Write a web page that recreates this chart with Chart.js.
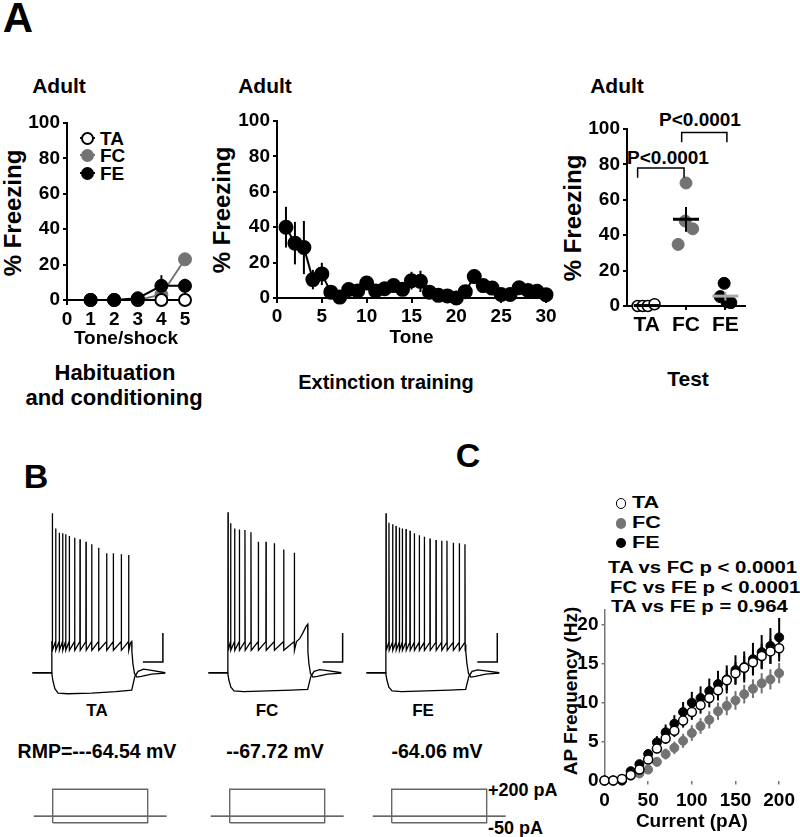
<!DOCTYPE html>
<html>
<head>
<meta charset="utf-8">
<script src="https://cdn.jsdelivr.net/npm/chart.js@4.4.1/dist/chart.umd.min.js"></script>
<style>
  body { margin: 0; width: 800px; height: 837px; position: relative; overflow: hidden; background: #fff;
         font-family: "Liberation Sans", Arial, sans-serif; font-weight: bold; color: #000; }
  canvas { position: absolute; }
  .t { position: absolute; white-space: nowrap; line-height: 1; transform: translate(-50%, -50%); }
  .r { position: absolute; white-space: nowrap; line-height: 1; transform: translate(-50%, -50%) rotate(-90deg); }
  .l { position: absolute; white-space: nowrap; line-height: 1; transform: translateY(-50%); }
  .s { position: absolute; white-space: nowrap; line-height: 1; transform-origin: left center; }
  .dot { position: absolute; border-radius: 50%; box-sizing: border-box; }
  .bar { position: absolute; height: 2px; }
</style>
</head>
<body>

<!-- panel letters and free text -->
<div class="t" style="left:18px;top:18px;font-size:42px">A</div>
<div class="t" style="left:36px;top:476px;font-size:34px">B</div>
<div class="t" style="left:468px;top:455px;font-size:34px">C</div>

<div class="t" style="left:59px;top:85px;font-size:21px">Adult</div>
<div class="t" style="left:265px;top:85px;font-size:21px">Adult</div>
<div class="t" style="left:617px;top:85px;font-size:21px">Adult</div>

<div class="r" style="left:13px;top:213px;font-size:24px">% Freezing</div>
<div class="r" style="left:222px;top:210px;font-size:24px">% Freezing</div>
<div class="r" style="left:573px;top:218px;font-size:24px">% Freezing</div>
<div class="r" style="left:570px;top:691px;font-size:19px">AP Frequency (Hz)</div>

<div class="t" style="left:115px;top:373px;font-size:22px">Habituation</div>
<div class="t" style="left:114px;top:398px;font-size:22px">and conditioning</div>
<div class="t" style="left:386px;top:382px;font-size:20px">Extinction training</div>
<div class="t" style="left:688px;top:378px;font-size:21px">Test</div>

<div class="t" style="left:668px;top:157px;font-size:19px">P&lt;0.0001</div>
<div class="t" style="left:700px;top:119px;font-size:19px">P&lt;0.0001</div>

<!-- legend, panel A left -->
<div class="bar" style="left:80px;top:137px;width:15px;background:#000"></div>
<div class="dot" style="left:81px;top:131.5px;width:13px;height:13px;background:#fff;border:2px solid #000"></div>
<div class="l" style="left:100px;top:138px;font-size:19px">TA</div>
<div class="bar" style="left:80px;top:154px;width:15px;background:#737373"></div>
<div class="dot" style="left:81px;top:148.5px;width:13px;height:13px;background:#737373"></div>
<div class="l" style="left:100px;top:155px;font-size:19px">FC</div>
<div class="bar" style="left:80px;top:172px;width:15px;background:#000"></div>
<div class="dot" style="left:81px;top:166.5px;width:13px;height:13px;background:#000"></div>
<div class="l" style="left:100px;top:173px;font-size:19px">FE</div>

<!-- panel B labels -->
<div class="t" style="left:97px;top:710px;font-size:17px">TA</div>
<div class="t" style="left:267px;top:710px;font-size:17px">FC</div>
<div class="t" style="left:423px;top:710px;font-size:17px">FE</div>
<div class="t" style="left:97px;top:752px;font-size:19.5px">RMP=---64.54 mV</div>
<div class="t" style="left:275px;top:752px;font-size:19.5px">--67.72 mV</div>
<div class="t" style="left:437px;top:752px;font-size:19.5px">-64.06 mV</div>
<div class="l" style="left:488px;top:790px;font-size:18px">+200 pA</div>
<div class="l" style="left:488px;top:828px;font-size:18px">-50 pA</div>

<!-- legend and stats, panel C -->
<div class="dot" style="left:615.5px;top:498px;width:10.5px;height:10.5px;background:#fff;border:1.5px solid #000"></div>
<div class="s" style="left:632px;top:495px;font-size:16px;transform:scaleX(1.35)">TA</div>
<div class="dot" style="left:615.5px;top:518px;width:10.5px;height:10.5px;background:#737373"></div>
<div class="s" style="left:632px;top:515px;font-size:16px;transform:scaleX(1.35)">FC</div>
<div class="dot" style="left:615.5px;top:537.5px;width:10.5px;height:10.5px;background:#000"></div>
<div class="s" style="left:632px;top:535px;font-size:16px;transform:scaleX(1.35)">FE</div>
<div class="s" style="left:608px;top:560px;font-size:16px;transform:scaleX(1.27)">TA vs FC p &lt; 0.0001</div>
<div class="s" style="left:610px;top:580px;font-size:16px;transform:scaleX(1.27)">FC vs FE p &lt; 0.0001</div>
<div class="s" style="left:611px;top:599px;font-size:16px;transform:scaleX(1.27)">TA vs FE p = 0.964</div>

<script>
// ---------- data ----------
// A, habituation and conditioning
const toneShock = [1, 2, 3, 4, 5];
const taHab = [0, 0, 0, 0, 0];
const fcHab = [0, 0, 0, 3, 23];
const feHab = [0, 0, 1, 8, 8];
const feHabErr = [0, 0, 0, 6, 4];

// A, extinction training (FE group)
const tones = [1, 2, 3, 4, 5, 6, 7, 8, 9, 10, 11, 12, 13, 14, 15, 16, 17, 18, 19, 20, 21, 22, 23, 24, 25, 26, 27, 28, 29, 30];
const extMean = [40, 31, 28.5, 10.4, 13.6, 3.3, 0.5, 4.8, 4, 8.5, 4, 5.2, 7, 4.9, 9.8, 9.4, 3.3, 1.5, 1.2, 0, 3.6, 12.1, 7, 5.6, 2, 2, 5.8, 4.2, 3.8, 1.9];
const extErr = [11.5, 12, 15, 5.5, 6.3, 2, 1, 4, 2, 2, 2, 3, 2, 2, 5, 6, 1, 1, 1, 1, 2, 4, 2, 2, 1, 1, 2, 1, 1, 1];

// A, test
const groups = ['TA', 'FC', 'FE'];
const testTA = [0, 0, 0, 1];
const testTAx = [0.77, 0.9, 1.03, 1.2];
const testFC = [69.5, 34.8, 43.6, 48];
const testFCx = [2.0, 1.8, 2.17, 1.98];
const testFE = [12.8, 5.3, 2.3, 1.9];
const testFEx = [2.97, 2.87, 3.04, 3.14];
const testMean = [0.25, 49, 5.6];
const testSem = [0.25, 7, 2.5];
const bracketX = [[0.77, 1.95], [1.89, 3.04]];
const bracketY = [78, 98];
const bracketDrop = 5.5;

// B, example traces (ms, mV)
const traceBase = -64.5;
const taSpikeT = [8, 50, 95, 137, 175, 220, 287, 354, 429, 500, 587, 687, 770, 870, 962];
const taSpikeV = [45.5, 35.1, 32.1, 31.7, 31.0, 29.8, 28.7, 27.7, 25.9, 24.1, 21.8, 17.9, 17.9, 17.2, 16.7];
const fcSpikeT = [4, 37, 87, 146, 216, 291, 383, 479, 583, 700, 833];
const fcSpikeV = [46.2, 38.6, 35.1, 34.4, 34.0, 32.4, 25.9, 25.9, 24.8, 20.6, 18.3];
const feSpikeT = [4, 41, 87, 129, 171, 208, 254, 304, 358, 420, 483, 554, 629, 700, 766, 845, 920, 991];
const feSpikeV = [45.5, 39.0, 37.9, 36.7, 35.8, 35.1, 34.7, 33.5, 31.7, 30.3, 29.3, 28.2, 27.1, 26.6, 26.6, 25.2, 24.8, 24.1];
const taPlateau = [-49, -43];   // AHP trough, spike threshold
const fcPlateau = [-49, -43];
const fePlateau = [-49, -43.5];
const taTailT = [985, 1000], taTailV = [-44, -43];
const fcTailT = [860, 900, 940, 975, 1000], fcTailV = [-43, -41, -37, -33, -31];
const feTailT = [1000], feTailV = [-45];
const recT = [1003, 1015, 1035, 1065, 1120, 1250, 1420];
const recV = [-50, -58, -65, -67.5, -67, -65.5, -64.8];
const hypT = [-240, 0, 15, 40, 80, 200, 500, 800, 1000, 1015, 1040, 1080, 1150, 1250, 1420];
const taHypV = [-64.5, -64.5, -70, -75.5, -78.5, -79, -78.5, -77.5, -76.5, -73, -67, -63.5, -62, -62.8, -64.5];
const fcHypV = [-64.5, -64.5, -69.5, -74.5, -77, -77.5, -77, -76.5, -76, -72.5, -67, -63.5, -62.3, -63, -64.5];
const feHypV = [-64.5, -64.5, -69.5, -74.5, -77, -77.5, -77, -76.5, -76, -72.5, -67, -63.5, -62.5, -63.2, -64.5];
const scaleBarMs = 250, scaleBarMv = 20;
const barEndT = [1390, 1437, 1395];

// B, step protocol (pA)
const stepAmps = [200, -50];
const stepWindow = [0, 1000];
const holdSpan = [-200, 1200];

// C, input-output
const current = [0, 10, 20, 30, 40, 50, 60, 70, 80, 90, 100, 110, 120, 130, 140, 150, 160, 170, 180, 190, 200];
const apTA = [0, 0, 0.2, 0.7, 1.4, 2.7, 4.1, 5.4, 6.4, 7.7, 8.8, 9.7, 10.6, 11.6, 12.9, 13.8, 14.5, 15.2, 16.0, 16.6, 17.0];
const apFC = [0, 0, 0, 0.6, 0.9, 1.4, 2.4, 3.4, 4.2, 5.1, 6.1, 7.0, 7.8, 8.9, 9.6, 10.3, 11.1, 11.8, 12.5, 13.0, 13.8];
const apFE = [0, 0, 0, 1.2, 2.1, 3.4, 4.9, 6.2, 7.3, 8.8, 10.0, 10.6, 11.5, 12.4, 13.0, 14.2, 14.6, 15.6, 16.5, 17.3, 18.4];
const errTA = [0, 0, 0, 0.2, 0.4, 0.5, 0.6, 0.7, 0.8, 0.9, 1.0, 1.1, 1.2, 1.3, 1.3, 1.4, 1.5, 1.5, 1.6, 1.6, 1.7];
const errFC = [0, 0, 0, 0.2, 0.3, 0.4, 0.6, 0.7, 0.8, 0.9, 1.0, 1.0, 1.1, 1.1, 1.2, 1.2, 1.2, 1.2, 1.3, 1.3, 1.3];
const errFE = [0, 0, 0, 0.3, 0.5, 0.6, 0.8, 1.0, 1.1, 1.3, 1.4, 1.5, 1.6, 1.7, 1.8, 1.9, 2.0, 2.1, 2.2, 2.3, 2.5];
const apTicks = [0, 5, 10, 15, 20];

// ---------- helpers ----------
const GRAY = '#737373';
const FONT = '"Liberation Sans", Arial, sans-serif';

Chart.defaults.font.family = FONT;
Chart.defaults.font.weight = 'bold';
Chart.defaults.color = '#000';
Chart.defaults.animation = false;
Chart.defaults.plugins.legend.display = false;
Chart.defaults.plugins.tooltip.enabled = false;

// vertical error bars, drawn under the markers
const errorBars = {
  id: 'errorBars',
  beforeDatasetsDraw(chart) {
    const ctx = chart.ctx;
    const ys = chart.scales.y;
    chart.data.datasets.forEach((ds, i) => {
      if (!ds.errs) return;
      const meta = chart.getDatasetMeta(i);
      ctx.save();
      ctx.strokeStyle = ds.errColor || ds.borderColor;
      ctx.lineWidth = ds.errWidth || 2;
      meta.data.forEach((pt, j) => {
        const e = ds.errs[j];
        if (!e) return;
        const v = ds.data[j].y;
        ctx.beginPath();
        ctx.moveTo(pt.x, ys.getPixelForValue(v - e));
        ctx.lineTo(pt.x, ys.getPixelForValue(v + e));
        ctx.stroke();
      });
      ctx.restore();
    });
  }
};
Chart.register(errorBars);

function xy(xs, ys) {
  return xs.map((x, i) => ({ x: x, y: ys[i] }));
}

function place(left, top, w, h) {
  const c = document.createElement('canvas');
  c.width = w;
  c.height = h;
  c.style.left = left + 'px';
  c.style.top = top + 'px';
  document.body.appendChild(c);
  return c;
}

function freezeY(boxWidth) {
  return {
    min: 0, max: 100,
    ticks: { stepSize: 20, font: { size: 19 }, padding: 3 },
    border: { display: true, color: '#000', width: 2 },
    grid: { drawOnChartArea: false, color: '#000', lineWidth: 2, tickLength: 4 },
    afterFit: s => { s.width = boxWidth; }
  };
}

function baseOpts(padding, scales) {
  return {
    responsive: false,
    devicePixelRatio: 1,
    layout: { padding: padding },
    scales: scales,
    elements: { line: { tension: 0 } }
  };
}

// ---------- A: habituation and conditioning ----------
new Chart(place(0, 60, 215, 300), {
  type: 'line',
  data: {
    datasets: [
      { data: xy(toneShock, feHab), errs: feHabErr, borderColor: '#000', backgroundColor: '#000',
        borderWidth: 2, pointRadius: 6.5, pointBorderWidth: 1, clip: false },
      { data: xy(toneShock, taHab), borderColor: '#000', backgroundColor: '#fff',
        borderWidth: 2, pointRadius: 6, pointBorderWidth: 2, clip: false },
      { data: xy(toneShock, fcHab), borderColor: GRAY, backgroundColor: GRAY,
        borderWidth: 2, pointRadius: 6.5, pointBorderWidth: 1, clip: false }
    ]
  },
  options: baseOpts({ left: 0, top: 63, right: 30, bottom: 0 }, {
    x: {
      type: 'linear', min: 0, max: 5,
      ticks: { stepSize: 1, font: { size: 19 }, padding: 3, maxRotation: 0 },
      border: { display: true, color: '#000', width: 2 },
      grid: { drawOnChartArea: false, color: '#000', lineWidth: 2, tickLength: 5 },
      title: { display: true, text: 'Tone/shock', font: { size: 19 }, padding: { top: 0, bottom: 10 } },
      afterFit: s => { s.height = 60; }
    },
    y: freezeY(67)
  })
});

// ---------- A: extinction training ----------
new Chart(place(205, 60, 360, 300), {
  type: 'line',
  data: {
    datasets: [
      { data: xy(tones, extMean), errs: extErr, borderColor: '#000', backgroundColor: '#000',
        borderWidth: 2, pointRadius: 6.5, clip: false }
    ]
  },
  options: baseOpts({ left: 0, top: 61, right: 19, bottom: 0 }, {
    x: {
      type: 'linear', min: 0, max: 30,
      ticks: { stepSize: 5, font: { size: 19 }, padding: 2, maxRotation: 0 },
      border: { display: true, color: '#000', width: 2 },
      grid: { drawOnChartArea: false, color: '#000', lineWidth: 2, tickLength: 5 },
      title: { display: true, text: 'Tone', font: { size: 19 }, padding: { top: 0, bottom: 11 } },
      afterFit: s => { s.height = 62; }
    },
    y: freezeY(72)
  })
});

// ---------- A: test ----------
const meanLines = testMean.map((m, i) => ({
  type: 'line', data: [{ x: i + 1 - 0.33, y: m }, { x: i + 1 + 0.33, y: m }],
  borderColor: i === 2 ? '#aaa' : '#000', borderWidth: 3, pointRadius: 0, clip: false
}));
const semLines = testSem.map((e, i) => ({
  type: 'line', data: [{ x: i + 1, y: testMean[i] - e }, { x: i + 1, y: testMean[i] + e }],
  borderColor: i === 2 ? '#aaa' : '#000', borderWidth: 2, pointRadius: 0, clip: false
}));
const brackets = bracketX.map((bx, i) => ({
  type: 'line',
  data: [{ x: bx[0], y: bracketY[i] - bracketDrop }, { x: bx[0], y: bracketY[i] },
         { x: bx[1], y: bracketY[i] }, { x: bx[1], y: bracketY[i] - bracketDrop }],
  borderColor: '#000', borderWidth: 1.5, pointRadius: 0, clip: false
}));
new Chart(place(545, 60, 255, 300), {
  type: 'scatter',
  data: {
    datasets: [
      ...meanLines,
      ...semLines,
      ...brackets,
      { data: xy(testTAx, testTA), backgroundColor: '#fff', borderColor: '#000', pointRadius: 5.5, pointBorderWidth: 1.5, clip: false },
      { data: xy(testFEx, testFE), backgroundColor: '#000', borderColor: '#000', pointRadius: 6, clip: false },
      { data: xy(testFCx, testFC), backgroundColor: GRAY, borderColor: GRAY, pointRadius: 6, clip: false }
    ]
  },
  options: baseOpts({ left: 0, top: 69, right: 55, bottom: 0 }, {
    x: {
      type: 'linear', min: 0.5, max: 3.5,
      afterBuildTicks: s => { s.ticks = groups.map((g, i) => ({ value: i + 1 })); },
      ticks: { font: { size: 21 }, padding: 3, callback: v => groups[v - 1] },
      border: { display: true, color: '#000', width: 2 },
      grid: { drawOnChartArea: false, color: '#000', lineWidth: 2, tickLength: 4 },
      afterFit: s => { s.height = 54; }
    },
    y: freezeY(82)
  })
});

// ---------- B: example traces ----------
function depTrace(spT, spV, plateau, tailT, tailV) {
  const pts = [{ x: -240, y: traceBase }, { x: 0, y: traceBase }, { x: 2, y: plateau[1] }];
  spT.forEach((t, i) => {
    pts.push({ x: t - 1.5, y: plateau[1] }, { x: t, y: spV[i] }, { x: t + 3, y: plateau[0] });
  });
  tailT.forEach((t, i) => pts.push({ x: t, y: tailV[i] }));
  recT.forEach((t, i) => pts.push({ x: t, y: recV[i] }));
  return pts;
}

const cells = [
  { left: 20, spT: taSpikeT, spV: taSpikeV, pl: taPlateau, tT: taTailT, tV: taTailV, hyp: taHypV },
  { left: 196, spT: fcSpikeT, spV: fcSpikeV, pl: fcPlateau, tT: fcTailT, tV: fcTailV, hyp: fcHypV },
  { left: 354, spT: feSpikeT, spV: feSpikeV, pl: fePlateau, tT: feTailT, tV: feTailV, hyp: feHypV }
];

cells.forEach((c, k) => {
  const end = barEndT[k];
  const barY = -57;
  new Chart(place(c.left, 500, 160, 220), {
    type: 'line',
    data: {
      datasets: [
        { data: depTrace(c.spT, c.spV, c.pl, c.tT, c.tV), borderColor: '#000', borderWidth: 1.3, pointRadius: 0 },
        { data: xy(hypT, c.hyp), borderColor: '#000', borderWidth: 1.3, pointRadius: 0 },
        { data: [{ x: end - scaleBarMs, y: barY }, { x: end, y: barY }, { x: end, y: barY + scaleBarMv }],
          borderColor: '#000', borderWidth: 1.5, pointRadius: 0 }
      ]
    },
    options: baseOpts(0, {
      x: { type: 'linear', display: false, min: -396, max: 1604 },
      y: { display: false, min: -97.1, max: 54.7 }
    })
  });
});

// ---------- B: step protocol ----------
[30, 207.3, 369].forEach(left => {
  const rect = [
    { x: stepWindow[0], y: stepAmps[1] }, { x: stepWindow[0], y: stepAmps[0] },
    { x: stepWindow[1], y: stepAmps[0] }, { x: stepWindow[1], y: stepAmps[1] },
    { x: stepWindow[0], y: stepAmps[1] }
  ];
  new Chart(place(left, 780, 140, 50), {
    type: 'line',
    data: {
      datasets: [
        { data: rect, borderColor: '#666', borderWidth: 1.4, pointRadius: 0 },
        { data: [{ x: holdSpan[0], y: 0 }, { x: holdSpan[1], y: 0 }], borderColor: '#333', borderWidth: 1.3, pointRadius: 0 }
      ]
    },
    options: baseOpts(0, {
      x: { type: 'linear', display: false, min: -239, max: 1235 },
      y: { display: false, min: -104.4, max: 269.6 }
    })
  });
});

// ---------- C: AP frequency vs current ----------
new Chart(place(548, 595, 252, 242), {
  type: 'scatter',
  data: {
    datasets: [
      { data: xy(current, apTA), errs: errTA, borderColor: '#000', backgroundColor: '#fff',
        pointRadius: 4.5, pointBorderWidth: 1.5, clip: false },
      { data: xy(current, apFE), errs: errFE, borderColor: '#000', backgroundColor: '#000',
        pointRadius: 4.5, clip: false },
      { data: xy(current, apFC), errs: errFC, borderColor: GRAY, backgroundColor: GRAY,
        pointRadius: 4.5, clip: false }
    ]
  },
  options: baseOpts({ left: 0, top: 6.7, right: 17, bottom: 0 }, {
    x: {
      type: 'linear', min: 0, max: 200,
      ticks: { stepSize: 50, font: { size: 19 }, padding: 5, maxRotation: 0 },
      border: { display: false },
      grid: { drawOnChartArea: false, color: '#777', lineWidth: 1.5, tickLength: 4 },
      title: { display: true, text: 'Current (pA)', font: { size: 19 }, padding: { top: 0, bottom: 4 } },
      afterFit: s => { s.height = 56.5; }
    },
    y: {
      min: 0, max: 22,
      afterBuildTicks: s => { s.ticks = apTicks.map(v => ({ value: v })); },
      ticks: { font: { size: 19 }, padding: 3 },
      border: { display: true, color: '#777', width: 1.5 },
      grid: { drawOnChartArea: false, color: '#777', lineWidth: 1.5, tickLength: 3 },
      afterFit: s => { s.width = 56.5; }
    }
  })
});
</script>
</body>
</html>
